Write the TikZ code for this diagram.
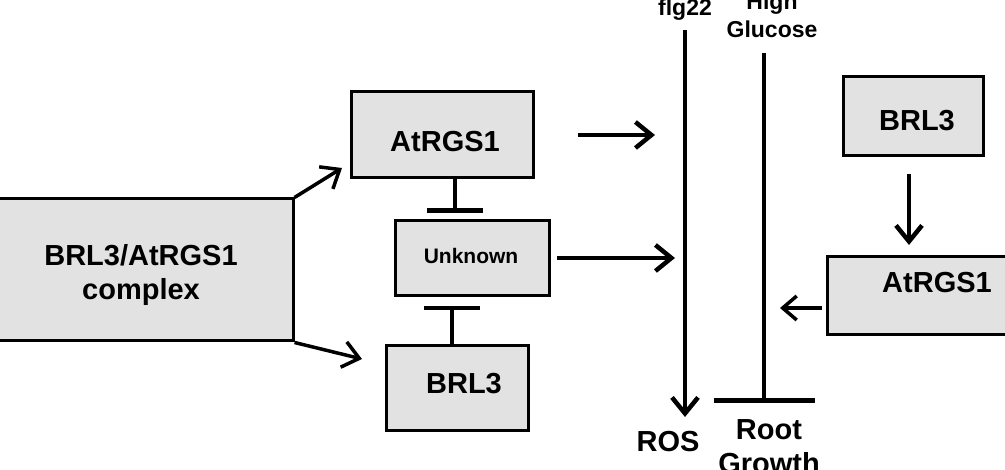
\documentclass[tikz,border=0pt]{standalone}
\usepackage{fontspec}
\setmainfont{Liberation Sans}
\usetikzlibrary{arrows.meta}
\definecolor{boxfill}{HTML}{E2E2E2}
\begin{document}
\begin{tikzpicture}[x=1pt,y=-1pt,
  box/.style={draw=black,line width=3pt,fill=boxfill,rectangle,inner sep=0pt},
  bigtxt/.style={font=\fontsize{29}{34}\selectfont\bfseries,align=center},
  midtxt/.style={font=\fontsize{23}{28}\selectfont\bfseries,align=center},
  actarrow/.style={line width=4.5pt,-{Straight Barb[length=16pt,width=26pt]}},
  inhib/.style={line width=4.5pt,-{Bar[width=56pt]}},
]
\useasboundingbox (0,0) rectangle (1005,470);
% boxes
\node[box,minimum width=298pt,minimum height=142pt] (cx) at (144,270) {};
\node[bigtxt] (cxt) at (141,275) {BRL3/AtRGS1\\complex};
\node[box,minimum width=182pt,minimum height=86pt] (a1) at (442,135) {};
\node[bigtxt] (a1t) at (445,142) {AtRGS1};
\node[box,minimum width=154pt,minimum height=75pt] (un) at (472,258.5) {};
\node[font=\fontsize{21}{25}\selectfont\bfseries] (unt) at (471,256) {Unknown};
\node[box,minimum width=142pt,minimum height=85pt] (b3) at (457,388.5) {};
\node[bigtxt] (b3t) at (464,384) {BRL3};
\node[box,minimum width=140pt,minimum height=79pt] (b3r) at (913,116.5) {};
\node[bigtxt] (b3rt) at (917,121) {BRL3};
\node[box,minimum width=220pt,minimum height=78pt] (a1r) at (937,296) {};
\node[bigtxt] (a1rt) at (937,283) {AtRGS1};
% labels
\node[midtxt,anchor=base] (flg) at (685,16) {flg22};
\node[midtxt,anchor=base] (hg) at (772,38) {High\\Glucose};
\node[bigtxt,anchor=base] (ros) at (668,452) {ROS};
\node[bigtxt,anchor=base] (rg) at (769,474) {Root\\Growth};
% coordinates
\coordinate (t1) at (342,168);
\coordinate (t2) at (362,359);
\coordinate (u1) at (455,213);
\coordinate (u2) at (452,306);
\coordinate (r1) at (675,258);
\coordinate (r2) at (655,135);
\coordinate (f1) at (685,30);
\coordinate (f2) at (685,417);
\coordinate (g1) at (764,53);
\coordinate (g2) at (764,403);
\coordinate (s1) at (822,308);
\coordinate (s2) at (780,308);
\coordinate (a2) at (578,135);
\coordinate (un2) at (557,258);
% connectors
\draw[line width=3.5pt,-{Straight Barb[length=16pt,width=26pt]}] (cx.north east) -- (t1);
\draw[line width=3.5pt,-{Straight Barb[length=16pt,width=26pt]}] (cx.south east) -- (t2);
\draw[inhib] (a1.south -| u1) -- (u1);
\draw[inhib] (b3.north -| u2) -- (u2);
\draw[actarrow] (un2) -- (r1);
\draw[actarrow] (a2) -- (r2);
\draw[actarrow] (f1) -- (f2);
\draw[line width=4.5pt,-{Bar[width=101pt]}] (g1) -- (g2);
\draw[actarrow,shorten <=17pt] (b3r.south -| 909,0) -- (909,245);
\draw[line width=3.5pt,-{Straight Barb[length=14pt,width=24pt]}] (s1) -- (s2);
\end{tikzpicture}
\end{document}
